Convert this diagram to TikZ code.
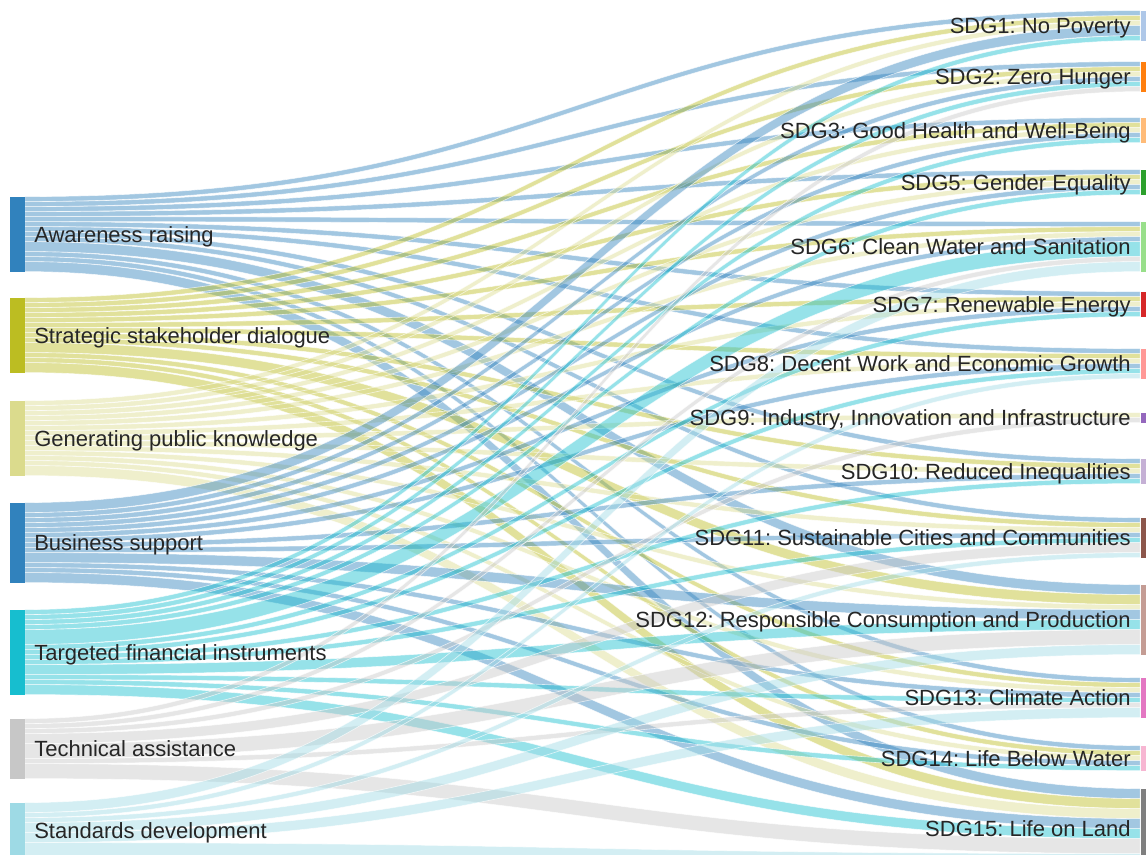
\documentclass[tikz,border=0pt]{standalone}
\usepackage{fontspec}
\setmainfont{Liberation Sans}
\usetikzlibrary{calc}
\frenchspacing

\definecolor{awareness}{HTML}{3182BD}
\definecolor{dialogue}{HTML}{BCBD22}
\definecolor{knowledge}{HTML}{DBDB8D}
\definecolor{business}{HTML}{3182BD}
\definecolor{targeted}{HTML}{17BECF}
\definecolor{technical}{HTML}{C7C7C7}
\definecolor{standards}{HTML}{9EDAE5}

\definecolor{nopoverty}{HTML}{AEC7E8}
\definecolor{zerohunger}{HTML}{FF7F0E}
\definecolor{health}{HTML}{FFBB78}
\definecolor{gender}{HTML}{2CA02C}
\definecolor{water}{HTML}{98DF8A}
\definecolor{energy}{HTML}{D62728}
\definecolor{work}{HTML}{FF9896}
\definecolor{industry}{HTML}{9467BD}
\definecolor{inequal}{HTML}{C5B0D5}
\definecolor{cities}{HTML}{8C564B}
\definecolor{consumption}{HTML}{C49C94}
\definecolor{climate}{HTML}{E377C2}
\definecolor{lifewater}{HTML}{F7B6D2}
\definecolor{lifeland}{HTML}{7F7F7F}

\newcommand\flowunit{2.5pt}

\pgfdeclarelayer{background}
\pgfsetlayers{background,main}

\tikzset{
  actbar/.style={rectangle, inner sep=0pt, minimum width=7.5pt},
  sdgbar/.style={rectangle, inner sep=0pt, minimum width=7.5pt},
  flow/.style={fill opacity=0.45, draw=white, draw opacity=0.7, line width=0.3pt},
  lbl/.style={font=\fontsize{11}{13}\selectfont, text=black!85, inner sep=0pt,
    text height=7.9pt, text depth=0pt},
}

\begin{document}
\begin{tikzpicture}[x=0.5pt, y=-0.5pt]
  \useasboundingbox (0,0) rectangle (1146,855);

  % activities on the left
  \foreach \sr/\ytop/\cnt/\col/\txt in {
      1/197/15/awareness/Awareness raising,
      2/298/15/dialogue/Strategic stakeholder dialogue,
      3/401/15/knowledge/Generating public knowledge,
      4/503/16/business/Business support,
      5/610/17/targeted/Targeted financial instruments,
      6/719/12/technical/Technical assistance,
      7/803/11/standards/Standards development} {
    \node[actbar, fill=\col, minimum height=\cnt*\flowunit] (s\sr) at (17,\ytop+\cnt*2.5) {};
    \node[lbl, anchor=west] (sl\sr) at ([xshift=4.5pt]s\sr.east) {\txt};
  }

  % goals on the right
  \foreach \tg/\ytop/\cnt/\col/\txt in {
      1/11/6/nopoverty/SDG1: No Poverty,
      2/62/6/zerohunger/SDG2: Zero Hunger,
      3/118/5/health/SDG3: Good Health and Well-Being,
      4/170/5/gender/SDG5: Gender Equality,
      5/222/10/water/SDG6: Clean Water and Sanitation,
      6/292/5/energy/SDG7: Renewable Energy,
      7/349/6/work/SDG8: Decent Work and Economic Growth,
      8/413/2/industry/{SDG9: Industry, Innovation and Infrastructure},
      9/459/5/inequal/SDG10: Reduced Inequalities,
      10/518/8/cities/SDG11: Sustainable Cities and Communities,
      11/585/14/consumption/SDG12: Responsible Consumption and Production,
      12/678/8/climate/SDG13: Climate Action,
      13/746/5/lifewater/SDG14: Life Below Water,
      14/789/16/lifeland/SDG15: Life on Land} {
    \node[sdgbar, fill=\col, minimum height=\cnt*\flowunit] (t\tg) at (1148,\ytop+\cnt*2.5) {};
    \node[lbl, anchor=east] (tl\tg) at ([xshift=-4.5pt]t\tg.west) {\txt};
    \expandafter\xdef\csname toff\tg\endcsname{0}
  }

  % flows, one row per activity
  \begin{pgfonlayer}{background}
  \foreach \sr/\col/\row in {
      1/awareness/{1,1,1,1,1,1,1,0,1,1,2,1,1,2},
      2/dialogue/{1,1,1,1,1,1,1,0,1,1,2,1,1,2},
      3/knowledge/{1,1,1,1,1,1,1,1,1,1,1,1,1,2},
      4/business/{2,1,1,1,1,1,1,0,1,1,2,1,1,2},
      5/targeted/{1,1,1,1,3,1,1,0,1,1,2,1,1,2},
      6/technical/{0,1,0,0,1,0,0,1,0,2,3,1,0,3},
      7/standards/{0,0,0,0,2,0,1,0,0,1,2,2,0,3}} {
    \xdef\soff{0}
    \foreach \nn [count=\tg] in \row {
      \ifnum\nn>0
        \edef\tcur{\csname toff\tg\endcsname}
        \coordinate (A) at ([yshift=-\soff*\flowunit]s\sr.north east);
        \coordinate (C) at ([yshift=-\soff*\flowunit-\nn*\flowunit]s\sr.north east);
        \coordinate (B) at ([yshift=-\tcur*\flowunit]t\tg.north west);
        \coordinate (D) at ([yshift=-\tcur*\flowunit-\nn*\flowunit]t\tg.north west);
        \coordinate (M) at ($(A)!0.5!(B)$);
        \path[flow, fill=\col] (A) .. controls (M|-A) and (M|-B) .. (B)
          -- (D) .. controls (M|-D) and (M|-C) .. (C) -- cycle;
        \pgfmathtruncatemacro\snew{\soff+\nn}\xdef\soff{\snew}
        \pgfmathtruncatemacro\tnew{\tcur+\nn}
        \expandafter\xdef\csname toff\tg\endcsname{\tnew}
      \fi
    }
  }
  \end{pgfonlayer}
\end{tikzpicture}
\end{document}
